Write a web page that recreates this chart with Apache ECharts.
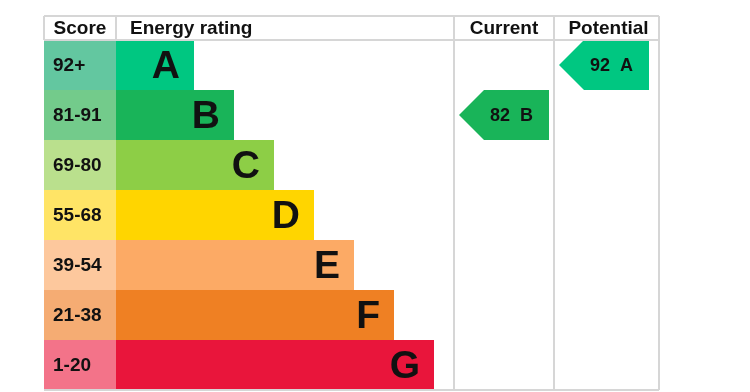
<!DOCTYPE html>
<html>
<head>
<meta charset="utf-8">
<script src="https://cdn.jsdelivr.net/npm/echarts@6/dist/echarts.min.js"></script>
<style>
html,body{margin:0;padding:0;background:#fff;}
#chart{width:750px;height:392px;}
</style>
</head>
<body>
<div id="chart"></div>
<script>
// ---- data ----
const bands = ['A', 'B', 'C', 'D', 'E', 'F', 'G'];
const scoreRanges = ['92+', '81-91', '69-80', '55-68', '39-54', '21-38', '1-20'];
const bandLevel = [1, 2, 3, 4, 5, 6, 7];
const currentRating = { score: 82, band: 'B' };
const potentialRating = { score: 92, band: 'A' };
const headers = ['Score', 'Energy rating', 'Current', 'Potential'];

// ---- styles ----
const barColors = ['#00c781', '#19b459', '#8dce46', '#ffd500', '#fcaa65', '#ef8023', '#e9153b'];
const scoreColors = ['#63c7a0', '#73cb8b', '#bae08d', '#ffe466', '#fdc89d', '#f5ac73', '#f37389'];
const lineColor = '#d6d6d6';
const FONT = '"Liberation Sans", Arial, sans-serif';

// column boundaries in axis units
const X_MIN = -2.75, BAR_START = -0.95, CUR_START = 7.5, POT_START = 10, X_MAX = 12.625;
const ARROW_W = 2.25;
const HEADER_H = 24;

const chart = echarts.init(document.getElementById('chart'), null, { renderer: 'canvas' });

function scoreCell(params, api) {
  const i = api.value(0);
  const p0 = api.coord([X_MIN, i]);
  const p1 = api.coord([BAR_START, i]);
  const h = api.size([0, 1])[1];
  return {
    type: 'group',
    children: [
      { type: 'rect', shape: { x: p0[0], y: p0[1] - h / 2, width: p1[0] - p0[0], height: h }, style: { fill: scoreColors[i] } },
      { type: 'text', style: { text: scoreRanges[i], x: p0[0] + 9, y: p0[1] + 1, verticalAlign: 'middle', align: 'left', font: 'bold 19px ' + FONT, fill: '#111' } }
    ]
  };
}

function ratingBar(params, api) {
  const i = api.value(0);
  const lvl = api.value(1);
  const p0 = api.coord([BAR_START, i]);
  const p1 = api.coord([lvl, i]);
  const h = api.size([0, 1])[1];
  return {
    type: 'group',
    children: [
      { type: 'rect', shape: { x: p0[0], y: p0[1] - h / 2, width: p1[0] - p0[0], height: h }, style: { fill: barColors[i] } },
      { type: 'text', style: { text: bands[i], x: p1[0] - 14, y: p0[1] + 2, verticalAlign: 'middle', align: 'right', font: 'bold 39px ' + FONT, fill: '#111' } }
    ]
  };
}

function arrowItem(colStart) {
  return function (params, api) {
    const i = api.value(0);
    const score = api.value(1);
    const h = api.size([0, 1])[1];
    const pl = api.coord([colStart, i]);
    const pr = api.coord([colStart + ARROW_W, i]);
    const left = pl[0] + 5, right = pr[0] + 5;
    const tip = 25;
    const top = pl[1] - h / 2, bot = pl[1] + h / 2, mid = pl[1];
    const bodyMid = (left + tip + right) / 2;
    return {
      type: 'group',
      children: [
        { type: 'polygon', shape: { points: [[left, mid], [left + tip, top], [right, top], [right, bot], [left + tip, bot]] }, style: { fill: barColors[i] } },
        { type: 'text', style: { text: score + '  ' + bands[i], x: bodyMid - 5, y: mid + 1, align: 'center', verticalAlign: 'middle', font: 'bold 18px ' + FONT, fill: '#111' } }
      ]
    };
  };
}

function frame(params, api) {
  const nRows = bands.length;
  const h = api.size([0, 1])[1];
  const gTop = api.coord([X_MIN, 0])[1] - h / 2;
  const gBot = api.coord([X_MIN, nRows - 1])[1] + h / 2;
  const yTop = gTop - HEADER_H;
  const xs = [X_MIN, BAR_START, CUR_START, POT_START, X_MAX].map(v => api.coord([v, 0])[0]);
  const ls = { stroke: lineColor, lineWidth: 2 };
  const children = [];
  [yTop, gTop, gBot].forEach(y => children.push({ type: 'line', shape: { x1: xs[0], y1: y, x2: xs[4], y2: y }, style: ls }));
  xs.forEach((x, k) => {
    const yEnd = (k === 0 || k === 1) ? gTop : gBot;
    children.push({ type: 'line', shape: { x1: x, y1: yTop, x2: x, y2: yEnd }, style: ls });
  });
  const hy = (yTop + gTop) / 2 + 1;
  const hf = 'bold 19px ' + FONT;
  children.push({ type: 'text', style: { text: headers[0], x: (xs[0] + xs[1]) / 2, y: hy, align: 'center', verticalAlign: 'middle', font: hf, fill: '#111' } });
  children.push({ type: 'text', style: { text: headers[1], x: xs[1] + 14, y: hy, align: 'left', verticalAlign: 'middle', font: hf, fill: '#111' } });
  children.push({ type: 'text', style: { text: headers[2], x: (xs[2] + xs[3]) / 2, y: hy, align: 'center', verticalAlign: 'middle', font: hf, fill: '#111' } });
  children.push({ type: 'text', style: { text: headers[3], x: (xs[3] + xs[4]) / 2 + 2, y: hy, align: 'center', verticalAlign: 'middle', font: hf, fill: '#111' } });
  return { type: 'group', children: children };
}

const curIdx = bands.indexOf(currentRating.band);
const potIdx = bands.indexOf(potentialRating.band);

chart.setOption({
  animation: false,
  grid: { left: 44, right: 91, top: 40, bottom: 2 },
  xAxis: { type: 'value', min: X_MIN, max: X_MAX, show: false },
  yAxis: { type: 'category', data: bands, inverse: true, show: false },
  series: [
    { type: 'custom', renderItem: scoreCell, data: bands.map((b, i) => [i]), encode: { x: -1, y: 0 }, silent: true },
    { type: 'custom', renderItem: ratingBar, data: bands.map((b, i) => [i, bandLevel[i]]), encode: { y: 0, x: 1 }, silent: true },
    { type: 'custom', renderItem: arrowItem(CUR_START), data: [[curIdx, currentRating.score]], encode: { y: 0, x: -1 }, silent: true },
    { type: 'custom', renderItem: arrowItem(POT_START), data: [[potIdx, potentialRating.score]], encode: { y: 0, x: -1 }, silent: true },
    { type: 'custom', renderItem: frame, data: [[0]], encode: { y: 0, x: -1 }, silent: true, z: 5 }
  ]
});
</script>
</body>
</html>
